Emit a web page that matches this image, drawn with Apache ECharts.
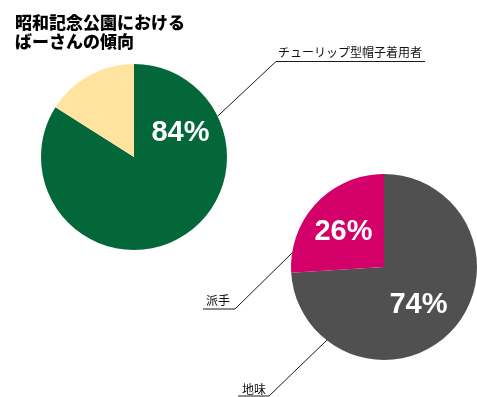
<!DOCTYPE html>
<html><head><meta charset="utf-8">
<script src="https://cdn.jsdelivr.net/npm/echarts@6/dist/echarts.min.js"></script>
<style>html,body{margin:0;padding:0;background:#fff}#c{width:477px;height:397px}</style>
</head><body><div id="c"></div>
<script>
// ---- data ----
const titleLines = ['昭和記念公園における', 'ばーさんの傾向'];
const pie1Names = ['チューリップ型帽子着用者', ''];
const pie1Values = [84, 16];
const pie2Names = ['地味', '派手'];
const pie2Values = [74, 26];

// ---- layout ----
const C1 = [134, 157], C2 = [384, 267], R = 93;
const colors1 = ['#03673a', '#ffe4a0'];
const colors2 = ['#505050', '#d3006a'];
function edge(c, deg) {
  const a = deg * Math.PI / 180;
  return [c[0] + R * Math.sin(a), c[1] - R * Math.cos(a)];
}
const leaders = [
  { name: pie1Names[0], p0: edge(C1, 64), elbow: [276, 61.5], endX: 425, textX: 278, textY: 58 },
  { name: pie2Names[1], p0: edge(C2, 278.7), elbow: [235, 309], endX: 203, textX: 206, textY: 306 },
  { name: pie2Names[0], p0: edge(C2, 218), elbow: [269, 396], endX: 238, textX: 242, textY: 395 }
];
const pctLabels = [
  { v: pie1Values[0], pos: [180.5, 133] },
  { v: pie2Values[1], pos: [343.5, 232] },
  { v: pie2Values[0], pos: [418.5, 305] }
];

const graphic = [];
leaders.forEach(l => {
  graphic.push({
    type: 'polyline', silent: true, z: 10,
    shape: { points: [l.p0, l.elbow, [l.endX, l.elbow[1]]] },
    style: { stroke: '#1a1a1a', lineWidth: 1, fill: null }
  });
  graphic.push({
    type: 'text', silent: true, z: 10, x: l.textX, y: l.textY,
    style: { text: l.name, fill: '#111', font: '12px "Noto Sans CJK JP"', textAlign: 'left', textVerticalAlign: 'bottom' }
  });
});
pctLabels.forEach(p => {
  graphic.push({
    type: 'text', silent: true, z: 10, x: p.pos[0], y: p.pos[1],
    style: { text: p.v + '%', fill: '#fff', font: 'bold 29px "Liberation Sans", Arial', textAlign: 'center', textVerticalAlign: 'middle' }
  });
});

function pieSeries(center, names, values, colors) {
  return {
    type: 'pie', center: center, radius: R, startAngle: 90, clockwise: true,
    animation: false, silent: true, label: { show: false }, labelLine: { show: false },
    emphasis: { disabled: true },
    itemStyle: { borderWidth: 0 },
    data: values.map((v, i) => ({ name: names[i], value: v, itemStyle: { color: colors[i] } }))
  };
}

const chart = echarts.init(document.getElementById('c'), null, { renderer: 'canvas' });
chart.setOption({
  backgroundColor: '#fff',
  animation: false,
  title: {
    text: titleLines.join('\n'), left: 10, top: 8,
    textStyle: { fontFamily: 'Noto Sans CJK JP', fontWeight: 900, fontSize: 17, lineHeight: 19, color: '#000' }
  },
  series: [
    pieSeries(C1, pie1Names, pie1Values, colors1),
    pieSeries(C2, pie2Names, pie2Values, colors2)
  ],
  graphic: graphic
});
</script></body></html>
